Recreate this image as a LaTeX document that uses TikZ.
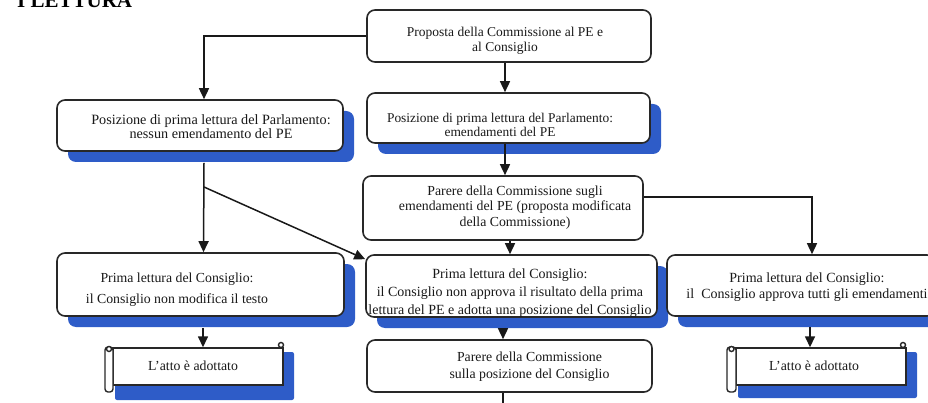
\documentclass[tikz,border=0pt]{standalone}
\usepackage{fontspec}
\setmainfont{Liberation Serif}
\usetikzlibrary{arrows.meta,shadows}
\definecolor{shblue}{RGB}{46,92,200}
\definecolor{edge}{RGB}{40,40,40}
\newcommand\myfs[2]{\fontsize{#1}{#2}\selectfont}
\begin{document}
\begin{tikzpicture}[x=1pt,y=-1pt,
 box/.style={draw=edge,line width=1.6pt,rounded corners=8pt,fill=white,inner sep=0pt},
 shbox/.style={box,drop shadow={shadow xshift=11pt,shadow yshift=-11pt,fill=shblue,opacity=1,draw=none}},
 txt/.style={align=center,text=black!90,inner sep=0pt},
 arr/.style={draw=black!90,line width=1.5pt,-{Triangle[length=11pt,width=10pt]}},
 ln/.style={draw=black!90,line width=1.5pt},
 scrollbody/.style={draw=edge,line width=1.4pt,fill=white,inner sep=0pt},
 scrollshadow/.style={fill=shblue,rounded corners=2pt},
]
\useasboundingbox (0,0) rectangle (928,403);
\clip (0,0) rectangle (928,403);

% title
\node[anchor=base west,inner sep=0pt,font=\bfseries\myfs{21}{21}] (title) at (17,8) {I LETTURA};

% boxes
\node[box,minimum width=284pt,minimum height=52pt] (b1) at (509,36) {};
\node[txt,font=\myfs{13.5}{15}] (t1) at (505,40.5) {Proposta della Commissione al PE e\\al Consiglio};

\node[shbox,minimum width=283pt,minimum height=50pt] (b2) at (508.5,118) {};
\node[txt,font=\myfs{13.4}{14}] (t2) at (500,125) {Posizione di prima lettura del Parlamento:\\emendamenti del PE};

\node[shbox,minimum width=286pt,minimum height=51pt] (b3) at (200,125.5) {};
\node[txt,font=\myfs{14.2}{13.5}] (t3) at (211,126.5) {Posizione di prima lettura del Parlamento:\\nessun emendamento del PE};

\node[box,minimum width=280pt,minimum height=64pt] (b4) at (503,208) {};
\node[txt,font=\myfs{13.8}{15.5}] (t4) at (515,207.5) {Parere della Commissione sugli\\emendamenti del PE (proposta modificata\\della Commissione)};

\node[shbox,minimum width=287pt,minimum height=63pt] (b5) at (200.5,284.5) {};
\node[txt,font=\myfs{13.8}{21}] (t5) at (177,289.5) {Prima lettura del Consiglio:\\il Consiglio non modifica il testo};

\node[shbox,minimum width=291pt,minimum height=62pt] (b6) at (511.5,286) {};
\node[txt,font=\myfs{14}{18}] (t6) at (510,293) {Prima lettura del Consiglio:\\il Consiglio non approva il risultato della prima\\lettura del PE e adotta una posizione del Consiglio};

\node[shbox,minimum width=268pt,minimum height=61pt] (b7) at (801,285.5) {};
\node[txt,font=\myfs{14}{16}] (t7) at (807,287) {Prima lettura del Consiglio:\\il\ \ Consiglio approva tutti gli emendamenti};

\node[box,minimum width=285pt,minimum height=52pt] (b9) at (509.5,366) {};
\node[txt,font=\myfs{13.8}{17}] (t9) at (529.5,366.5) {Parere della Commissione\\sulla posizione del Consiglio};

% scroll left
\fill[scrollshadow] (115,352) rectangle (294,400);
\node[scrollbody,minimum width=170pt,minimum height=37pt] (s1) at (198,366.5) {};
\draw[scrollbody,rounded corners=3pt] (105,347) rectangle (113,392);
\draw[scrollbody] (109,349) circle (2.5);
\draw[scrollbody] (281,345) circle (2.5);
\node[txt,font=\myfs{13.8}{16}] (ts1) at (193,366) {L'atto è adottato};

% scroll right
\fill[scrollshadow] (738,352) rectangle (917,398);
\node[scrollbody,minimum width=170pt,minimum height=37pt] (s2) at (821,366.5) {};
\draw[scrollbody,rounded corners=3pt] (727,347) rectangle (736,392);
\draw[scrollbody] (731.5,349) circle (2.5);
\draw[scrollbody] (903,345) circle (2.5);
\node[txt,font=\myfs{13.8}{16}] (ts2) at (814,366) {L'atto è adottato};

% connectors
\draw[arr] (b1.west) -| ([xshift=4pt]b3.north);
\draw[arr] ([xshift=-4pt]b1.south) -- ([xshift=-3.5pt]b2.north);
\draw[arr] ([xshift=-3.5pt]b2.south) -- ([xshift=2pt]b4.north);
\draw[arr] ([xshift=7pt]b4.south) -- ([xshift=-1.5pt]b6.north);
\draw[arr] ([yshift=11pt]b4.east) -| ([xshift=11pt]b7.north);
\coordinate (j) at (204,187);
\draw[arr] ([xshift=4pt,yshift=-11pt]b3.south) -- ([xshift=3pt]b5.north);
\draw[arr] (j) -- ([yshift=-5pt]b6.north west);
\draw[arr] ([xshift=2.5pt,yshift=-11pt]b5.south) -- ([xshift=5pt]s1.north);
\draw[arr] ([xshift=-8.5pt,yshift=-11pt]b6.south) -- ([xshift=-6.5pt]b9.north);
\draw[arr] ([xshift=9pt,yshift=-10pt]b7.south) -- ([xshift=-11pt]s2.north);
\coordinate (bend) at (503,403);
\draw[ln] ([xshift=-6.5pt]b9.south) -- (bend);
\end{tikzpicture}
\end{document}
